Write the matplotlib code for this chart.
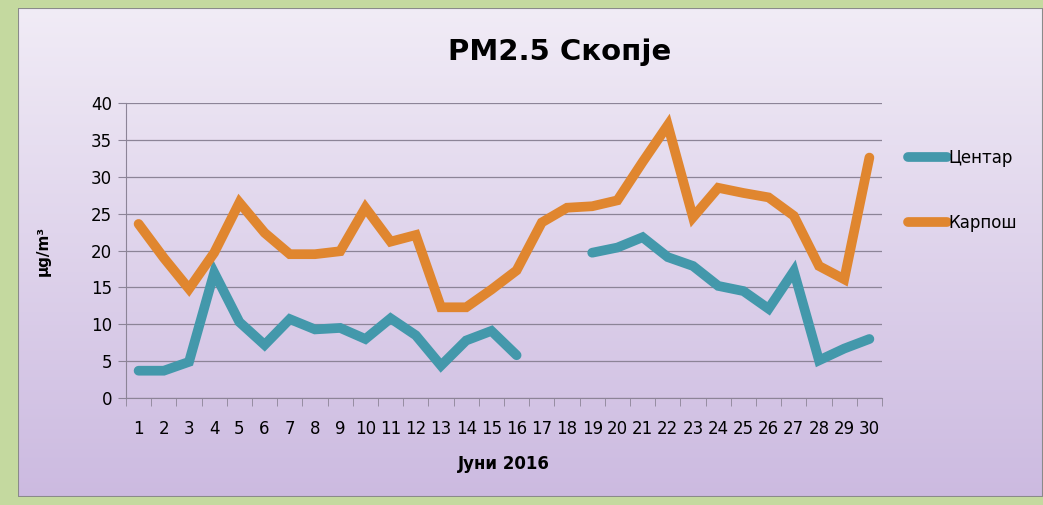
import numpy as np
import matplotlib.pyplot as plt
from matplotlib.patches import Rectangle

# Дневни вредности PM2.5, јуни 2016
days = list(range(1, 31))
centar = [3.7, 3.7, 4.9, 17.0, 10.3, 7.2, 10.7, 9.3, 9.5, 8.0,
          10.8, 8.5, 4.4, 7.8, 9.1, 5.8, np.nan, np.nan, 19.7, 20.4,
          21.8, 19.1, 17.9, 15.2, 14.5, 12.1, 17.2, 5.1, 6.7, 8.0]
karposh = [23.6, 19.0, 14.8, 19.7, 26.5, 22.4, 19.5, 19.5, 19.9, 25.8,
           21.2, 22.1, 12.3, 12.3, 14.7, 17.3, 23.8, 25.8, 26.0, 26.8,
           32.0, 37.0, 24.5, 28.5, 27.8, 27.2, 24.7, 17.9, 16.1, 32.6]
series_names = ['Центар', 'Карпош']
series_colors = ['#4398ab', '#e0862f']

W, H = 1043, 505
fig = plt.figure(figsize=(W / 100, H / 100), dpi=100)
fig.patch.set_facecolor('#c4d99f')

# inner panel with lavender gradient
bg = fig.add_axes([18 / W, 8 / H, 1 - 18 / W, 1 - 16 / H])
grad = np.linspace(0, 1, 256).reshape(-1, 1)
top = np.array([0.945, 0.925, 0.965])
bot = np.array([0.800, 0.730, 0.880])
img = top + (bot - top) * grad[..., None]
bg.imshow(img, aspect='auto', extent=[0, 1, 0, 1], origin='upper')
bg.add_patch(Rectangle((0, 0), 1, 1, transform=bg.transAxes, fill=False,
                       edgecolor='#8a8a8a', lw=1.5))
bg.set_axis_off()

ax = fig.add_axes([126 / W, 1 - 398 / H, (882 - 126) / W, (398 - 103) / H])
ax.set_facecolor('none')

x = np.arange(len(days))
for vals, name, col in zip([centar, karposh], series_names, series_colors):
    ax.plot(x, vals, color=col, lw=7, solid_capstyle='round',
            solid_joinstyle='miter', label=name)

ax.set_xlim(-0.5, len(days) - 0.5)
ax.set_ylim(0, 40)
ax.set_yticks(range(0, 41, 5))
ax.yaxis.grid(True, color='#8c8497', lw=0.9)
ax.set_axisbelow(True)

ax.set_xticks(x)
ax.set_xticklabels([str(d) for d in days], fontsize=12)
ax.set_xticks(np.arange(-0.5, len(days)), minor=True)
ax.tick_params(axis='x', which='major', length=0, pad=16)
ax.tick_params(axis='x', which='minor', length=6, color='#8c8497')
ax.tick_params(axis='y', length=6, color='#8c8497', labelsize=12, pad=4)

for s in ['top', 'right']:
    ax.spines[s].set_visible(False)
ax.spines['left'].set_color('#8c8497')
ax.spines['bottom'].set_color('#8c8497')

ax.set_ylabel('μg/m³', fontsize=11, fontweight='bold', labelpad=29)
ax.set_xlabel('Јуни 2016', fontsize=12, fontweight='bold', labelpad=12)

fig.text(560 / W, 1 - 52 / H, 'PM2.5 Скопје', ha='center', va='center',
         fontsize=21, fontweight='bold')

ax.legend(loc='upper left', bbox_to_anchor=(1.015, 0.895), frameon=False,
          fontsize=12, handlelength=2.3, handletextpad=0.1, labelspacing=2.8)

fig.savefig('out.png', dpi=100, facecolor=fig.get_facecolor())
